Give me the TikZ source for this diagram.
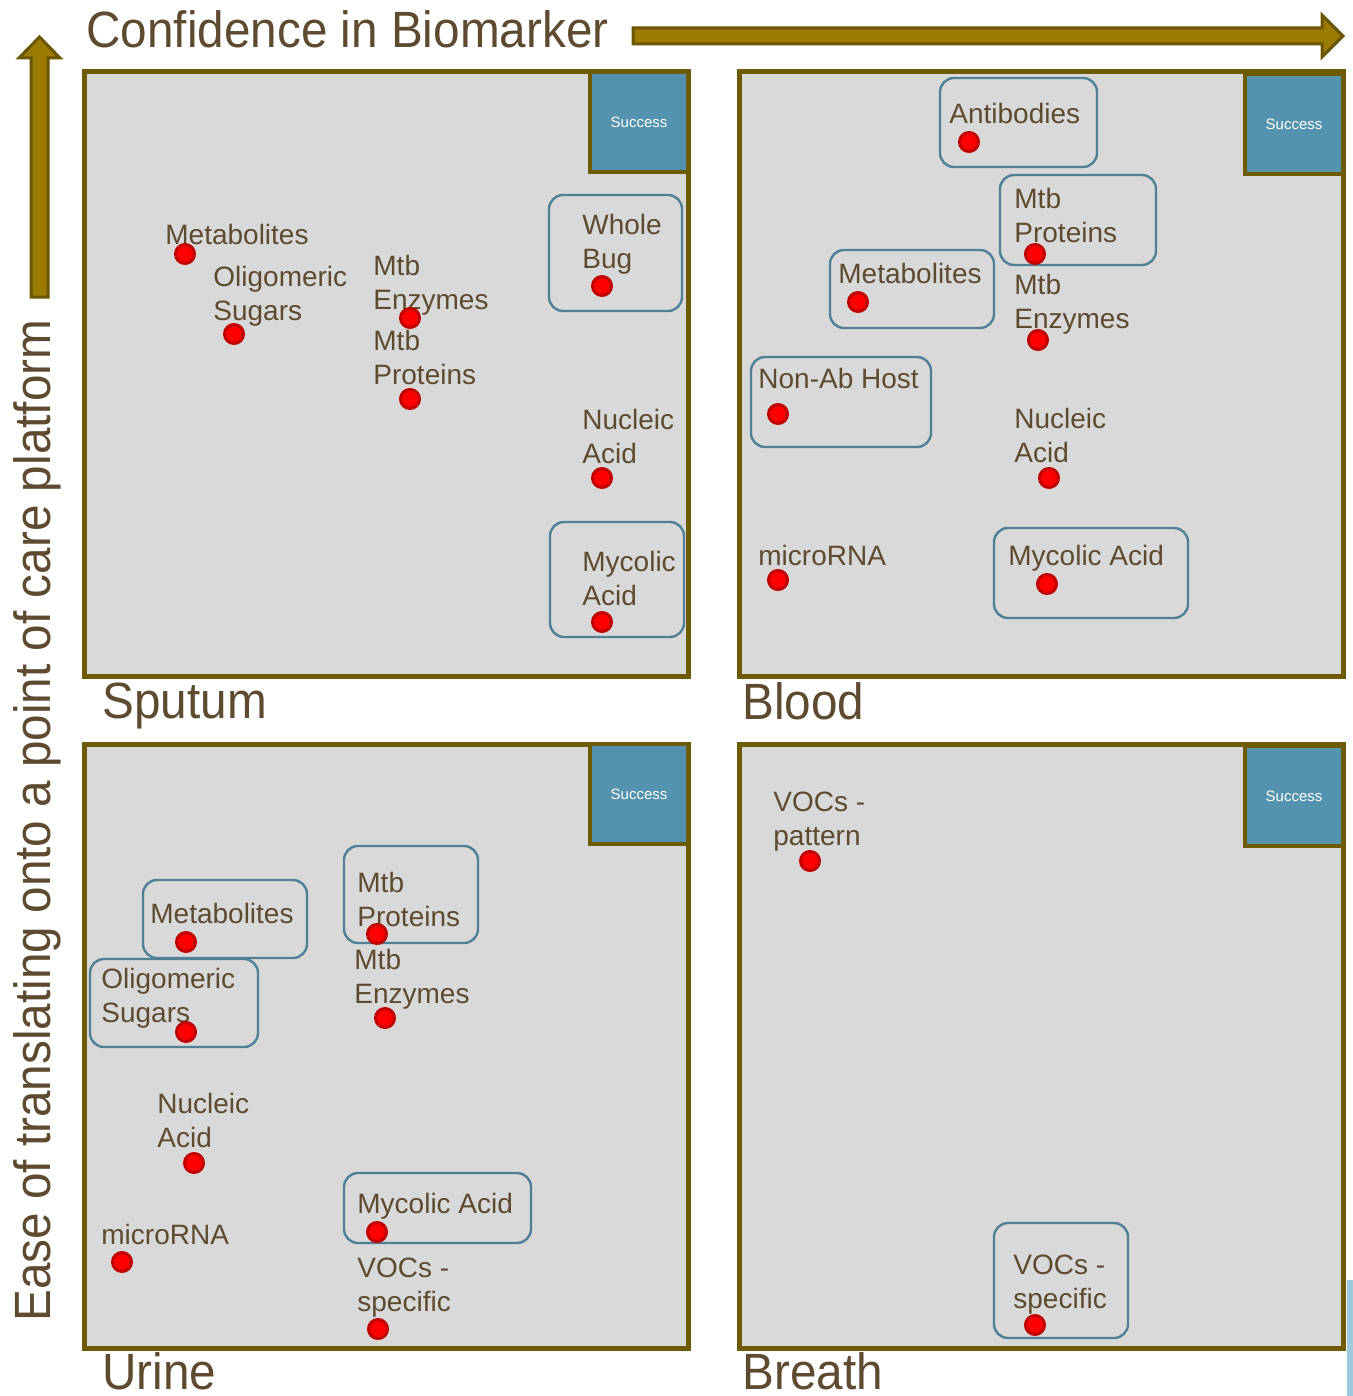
\documentclass[tikz,border=0pt]{standalone}
\usepackage{fontspec}
\setmainfont{Liberation Sans}
\newfontfamily\narrowsans[FakeStretch=0.935]{Liberation Sans}
\definecolor{txb}{HTML}{5E4A2E}
\definecolor{olv}{HTML}{6E5A00}
\definecolor{arf}{HTML}{9A7A00}
\definecolor{are}{HTML}{6B5500}
\definecolor{pgr}{HTML}{D9D9D9}
\definecolor{suc}{HTML}{5393AE}
\definecolor{bxe}{HTML}{4F8096}
\definecolor{dte}{HTML}{C00000}
\definecolor{stp}{HTML}{9DC9DC}
\tikzset{
    panel/.style={draw=olv,fill=pgr,line width=2.5pt},
    succbox/.style={draw=olv,fill=suc,line width=2pt},
    succtxt/.style={text=white,font=\fontsize{7.5}{9}\selectfont,inner sep=0pt},
    pick/.style={draw=bxe,line width=1.2pt,rounded corners=7pt},
    lbl/.style={text=txb,font=\fontsize{14}{17}\selectfont,align=left,anchor=north west,inner sep=0pt},
    big/.style={text=txb,font=\narrowsans\fontsize{25.5}{30}\selectfont,inner sep=0pt},
    bigarrow/.style={draw=are,fill=arf,line width=1.5pt,line join=miter},
    dot/.style={circle,fill=red,draw=dte,line width=1.5pt,minimum size=9.5pt,inner sep=0pt}
}
\begin{document}
\begin{tikzpicture}[x=0.5pt,y=-0.5pt]
    \useasboundingbox (0,0) rectangle (1353,1396);
    \draw [bigarrow] (633,28) -- (1322,28) -- (1322,15) -- (1343,36)
        -- (1322,57) -- (1322,44) -- (633,44) -- cycle;
    \draw [bigarrow] (31,297) -- (31,58) -- (19,58) -- (39.5,37)
        -- (60,58) -- (48,58) -- (48,297) -- cycle;
    \node [big,anchor=north west] (xtitle) at (86,10) {Confidence in Biomarker};
    \node [big,rotate=90,anchor=base west] (ytitle) at (50,1322)
        {Ease of translating onto a point of care platform};
    \fill [stp] (1347,1280) rectangle (1353,1396);
    \foreach \nm/\x/\y/\sx/\sy in {sput/84/72/590/72,blood/739/72/1245/74,
        urine/84/744/590/744,breath/739/744/1245/746} {
        \draw [panel] (\x,\y) rectangle +(604,604);
        \draw [succbox] (\sx,\sy) rectangle +(98,100)
            node [succtxt,midway] (\nm-succ) {Success};
    }
    \node [big,anchor=north west] (sputum) at (102,682) {Sputum};
    \node [big,anchor=north west] (blood) at (742,682) {Blood};
    \node [big,anchor=north west] (urine) at (102,1352) {Urine};
    \node [big,anchor=north west] (breath) at (742,1352) {Breath};
    \draw [pick] (549,195) rectangle (682,311);
    \draw [pick] (550,522) rectangle (684,637);
    \draw [pick] (940,78) rectangle (1097,167);
    \draw [pick] (1000,175) rectangle (1156,265);
    \draw [pick] (830,250) rectangle (994,328);
    \draw [pick] (751,357) rectangle (931,447);
    \draw [pick] (994,528) rectangle (1188,618);
    \draw [pick] (143,880) rectangle (307,958);
    \draw [pick] (90,959) rectangle (258,1047);
    \draw [pick] (344,846) rectangle (478,943);
    \draw [pick] (344,1173) rectangle (531,1243);
    \draw [pick] (994,1223) rectangle (1128,1338);
    \node [lbl] (sMet) at (165,224) {Metabolites};
    \node [lbl] (sOli) at (213,266) {Oligomeric\\Sugars};
    \node [lbl] (sEnz) at (373,255) {Mtb\\Enzymes};
    \node [lbl] (sPro) at (373,330) {Mtb\\Proteins};
    \node [lbl] (sBug) at (582,214) {Whole\\Bug};
    \node [lbl] (sNuc) at (582,409) {Nucleic\\Acid};
    \node [lbl] (sMyc) at (582,551) {Mycolic\\Acid};
    \node [lbl] (bAnt) at (949,103) {Antibodies};
    \node [lbl] (bPro) at (1014,188) {Mtb\\Proteins};
    \node [lbl] (bEnz) at (1014,274) {Mtb\\Enzymes};
    \node [lbl] (bMet) at (838,263) {Metabolites};
    \node [lbl] (bHost) at (758,368) {Non-Ab Host};
    \node [lbl] (bNuc) at (1014,408) {Nucleic\\Acid};
    \node [lbl] (bRna) at (758,545) {microRNA};
    \node [lbl] (bMyc) at (1008,545) {Mycolic Acid};
    \node [lbl] (uMet) at (150,903) {Metabolites};
    \node [lbl] (uOli) at (101,968) {Oligomeric\\Sugars};
    \node [lbl] (uPro) at (357,872) {Mtb\\Proteins};
    \node [lbl] (uEnz) at (354,949) {Mtb\\Enzymes};
    \node [lbl] (uNuc) at (157,1093) {Nucleic\\Acid};
    \node [lbl] (uRna) at (101,1224) {microRNA};
    \node [lbl] (uMyc) at (357,1193) {Mycolic Acid};
    \node [lbl] (uVoc) at (357,1258) {VOCs -\\specific};
    \node [lbl] (rVoc) at (773,792) {VOCs -\\pattern};
    \node [lbl] (rVos) at (1013,1255) {VOCs -\\specific};
    \foreach \nm/\x/\y in {sMetd/185/254,sOlid/234/334,sEnzd/410/318,sProd/410/399,
        sBugd/602/286,sNucd/602/478,sMycd/602/622,
        bAntd/969/142,bProd/1035/254,bEnzd/1038/340,bMetd/858/302,
        bHostd/778/414,bNucd/1049/478,bRnad/778/580,bMycd/1047/584,
        uMetd/186/942,uOlid/186/1032,uProd/377/934,uEnzd/385/1018,
        uNucd/194/1163,uRnad/122/1262,uMycd/377/1232,uVocd/378/1329,
        rVocd/810/861,rVosd/1035/1325} {
        \node [dot] (\nm) at (\x,\y) {};
    }
\end{tikzpicture}
\end{document}
